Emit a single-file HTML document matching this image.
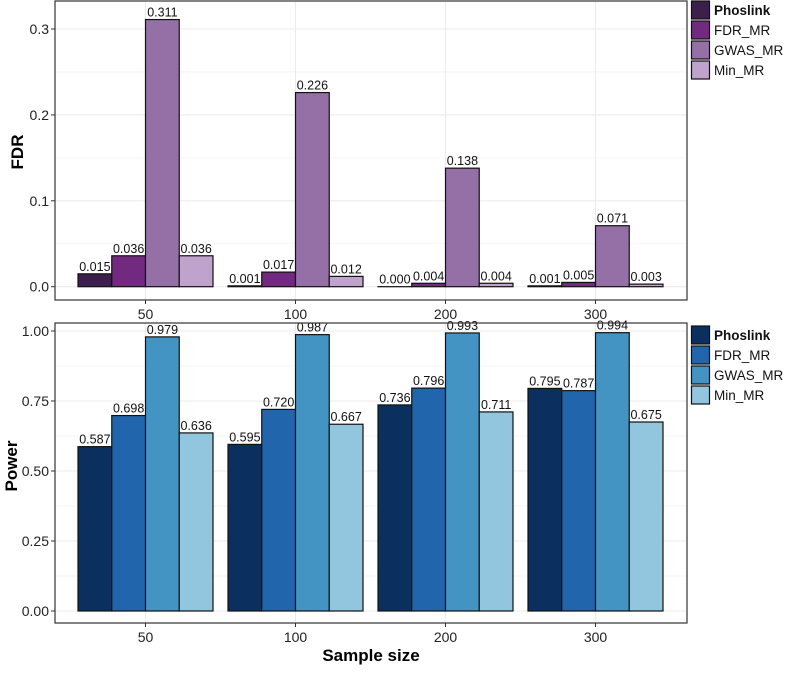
<!DOCTYPE html>
<html><head><meta charset="utf-8"><style>
html,body{margin:0;padding:0;background:#fff}
svg text{font-family:"Liberation Sans",Arial,sans-serif}
</style></head><body>
<svg id="chart" width="785" height="668" xmlns="http://www.w3.org/2000/svg"></svg>
<script>
const categories = ["50","100","200","300"];
const seriesNames = ["Phoslink","FDR_MR","GWAS_MR","Min_MR"];
const fdrPhoslink = [0.015,0.001,0.000,0.001];
const fdrFDR = [0.036,0.017,0.004,0.005];
const fdrGWAS = [0.311,0.226,0.138,0.071];
const fdrMin = [0.036,0.012,0.004,0.003];
const powPhoslink = [0.587,0.595,0.736,0.795];
const powFDR = [0.698,0.720,0.796,0.787];
const powGWAS = [0.979,0.987,0.993,0.994];
const powMin = [0.636,0.667,0.711,0.675];
const fdrTicks = [0,0.1,0.2,0.3];
const fdrTickLabels = ["0.0","0.1","0.2","0.3"];
const powTicks = [0,0.25,0.5,0.75,1.0];
const powTickLabels = ["0.00","0.25","0.50","0.75","1.00"];

const NS="http://www.w3.org/2000/svg";
const svg=document.getElementById('chart');
function mk(tag,attrs,parent,text){const e=document.createElementNS(NS,tag);for(const k in attrs)e.setAttribute(k,attrs[k]);if(text!==undefined)e.textContent=text;(parent||svg).appendChild(e);return e;}
const L=55,R=687;
function xCenter(i){return 145.5+150*i;}

function panel(opt){
  const g=mk('g',{});
  
  
  const y=v=>opt.y0-v*opt.scale;
  for(let k=0;k<opt.ticks.length-1;k++){
    const m=(opt.ticks[k]+opt.ticks[k+1])/2;
    mk('line',{x1:L,x2:R,y1:y(m),y2:y(m),stroke:'#f3f3f3','stroke-width':0.8},g);
  }
  const tm=opt.ticks[opt.ticks.length-1]+(opt.ticks[1]-opt.ticks[0])/2;
  if(y(tm)>opt.top) mk('line',{x1:L,x2:R,y1:y(tm),y2:y(tm),stroke:'#f3f3f3','stroke-width':0.8},g);
  opt.ticks.forEach((t,k)=>{
    mk('line',{x1:L,x2:R,y1:y(t),y2:y(t),stroke:'#ebebeb','stroke-width':1.1},g);
    mk('line',{x1:L-4,x2:L,y1:y(t),y2:y(t),stroke:'#333','stroke-width':1},g);
    const tl=mk('text',{x:L-6,y:y(t)+5,'text-anchor':'end','font-size':14,fill:'#222'},g,opt.tickLabels[k]);
    
    
  });
  categories.forEach((c,i)=>{
    mk('line',{x1:xCenter(i),x2:xCenter(i),y1:opt.top,y2:opt.bottom,stroke:'#ebebeb','stroke-width':1.1},g);
    mk('line',{x1:xCenter(i),x2:xCenter(i),y1:opt.bottom,y2:opt.bottom+4,stroke:'#333','stroke-width':1},g);
    const xl=mk('text',{x:xCenter(i),y:opt.bottom+19,'text-anchor':'middle','font-size':14,fill:'#222'},g,c);
    
    
  });
  const bw=33.75;
  opt.series.forEach((arr,s)=>{
    arr.forEach((v,i)=>{
      const x=xCenter(i)-67.5+s*bw;
      const yt=y(v);
      const r=mk('rect',{x:x,y:yt,width:bw,height:Math.max(opt.y0-yt,0.01),fill:opt.colors[s],stroke:'#111','stroke-width':1.2},g);
      
      
      const t=mk('text',{x:x+bw/2,y:yt-3,'text-anchor':'middle','font-size':12.5,fill:'#111'},g,v.toFixed(3));
      
      
    });
  });
  mk('rect',{x:L,y:opt.top,width:R-L,height:opt.bottom-opt.top,fill:'none',stroke:'#333','stroke-width':1.2},g);
  const yt=mk('text',{x:0,y:0,transform:`translate(${opt.titleX},${opt.titleY}) rotate(-90)`,'text-anchor':'middle','font-size':17,'font-weight':'bold',fill:'#000'},g,opt.title);
  
  
  const lg=mk('g',{},g);
  
  
  seriesNames.forEach((n,s)=>{
    const ly=opt.legendY+s*20;
    const e=mk('g',{},lg);
    
    
    mk('rect',{x:691.5,y:ly,width:18,height:18,fill:opt.colors[s],stroke:'#111','stroke-width':1.2},e);
    mk('text',{x:714,y:ly+14,'font-size':13.5,'font-weight':s===0?'bold':'normal',fill:'#111'},e,n);
  });
}
panel({name:'fdr',title:'FDR',titleX:23,titleY:152,y0:286.7,scale:859,top:1,bottom:300,ticks:fdrTicks,tickLabels:fdrTickLabels,
  series:[fdrPhoslink,fdrFDR,fdrGWAS,fdrMin],colors:['#3d1f4e','#722a80','#9470a7','#bfa3cd'],legendY:1});
panel({name:'power',title:'Power',titleX:17,titleY:466,y0:611,scale:280,top:323,bottom:623,ticks:powTicks,tickLabels:powTickLabels,
  series:[powPhoslink,powFDR,powGWAS,powMin],colors:['#0b305f','#2166ac','#4393c3','#92c5de'],legendY:326});
const xt=mk('text',{x:371,y:661,'text-anchor':'middle','font-size':17,'font-weight':'bold',fill:'#000'},svg,'Sample size');


</script>
</body></html>
